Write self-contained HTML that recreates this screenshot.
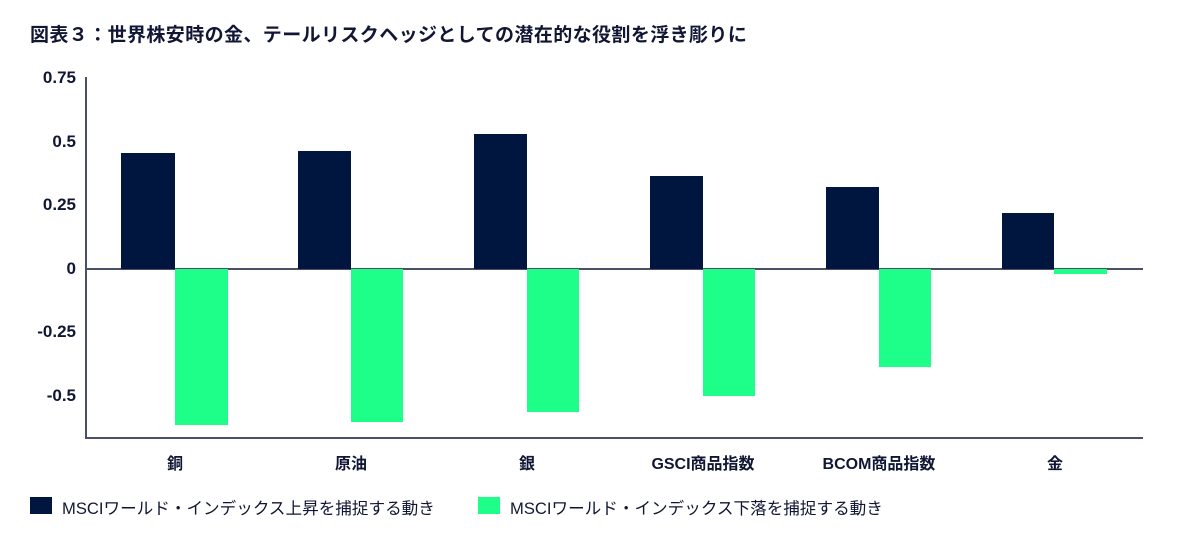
<!DOCTYPE html>
<html><head><meta charset="utf-8"><style>
body{margin:0;width:1200px;height:534px;background:#fff;position:relative;overflow:hidden;font-family:"Liberation Sans","Noto Sans CJK JP",sans-serif;color:#1a1a2e}
div{position:absolute}
.d{background:#00163f}.g{background:#1eff8a}
.yl{left:0;width:76px;text-align:right;font-weight:bold;font-size:17px;color:#101633}
.xl{width:160px;text-align:center;font-weight:bold;font-size:16px;top:450px;color:#101633}
.tk{background:#4a5068}
</style></head><body>
<div style="left:30px;top:20px;font-weight:bold;font-size:19px;letter-spacing:0.4px;color:#101633">図表３：世界株安時の金、テールリスクヘッジとしての潜在的な役割を浮き彫りに</div>
<div class="yl" style="top:68px">0.75</div>
<div class="yl" style="top:132px">0.5</div>
<div class="yl" style="top:195px">0.25</div>
<div class="yl" style="top:259px">0</div>
<div class="yl" style="top:322px">-0.25</div>
<div class="yl" style="top:386px">-0.5</div>
<div class="tk" style="left:85px;top:77px;width:2px;height:361px"></div>
<div class="tk" style="left:85px;top:437px;width:1058px;height:2px"></div>
<div class="tk" style="left:85px;top:268px;width:1058px;height:2px"></div>
<div class="d" style="left:121px;top:153px;width:54px;height:116px"></div>
<div class="g" style="left:175px;top:269px;width:53px;height:156px"></div>
<div class="d" style="left:298px;top:151px;width:53px;height:118px"></div>
<div class="g" style="left:351px;top:269px;width:52px;height:153px"></div>
<div class="d" style="left:474px;top:134px;width:53px;height:135px"></div>
<div class="g" style="left:527px;top:269px;width:52px;height:143px"></div>
<div class="d" style="left:650px;top:176px;width:53px;height:93px"></div>
<div class="g" style="left:703px;top:269px;width:52px;height:127px"></div>
<div class="d" style="left:826px;top:187px;width:53px;height:82px"></div>
<div class="g" style="left:879px;top:269px;width:52px;height:98px"></div>
<div class="d" style="left:1002px;top:213px;width:52px;height:56px"></div>
<div class="g" style="left:1054px;top:269px;width:53px;height:5px"></div>
<div class="xl" style="left:95px">銅</div>
<div class="xl" style="left:271px">原油</div>
<div class="xl" style="left:447px">銀</div>
<div class="xl" style="left:623px">GSCI商品指数</div>
<div class="xl" style="left:799px">BCOM商品指数</div>
<div class="xl" style="left:975px">金</div>
<div class="d" style="left:30px;top:497px;width:22px;height:17px"></div>
<div style="left:62px;top:495px;font-size:16.6px;color:#101633">MSCIワールド・インデックス上昇を捕捉する動き</div>
<div class="g" style="left:478px;top:497px;width:22px;height:17px"></div>
<div style="left:510px;top:495px;font-size:16.6px;color:#101633">MSCIワールド・インデックス下落を捕捉する動き</div>
</body></html>
